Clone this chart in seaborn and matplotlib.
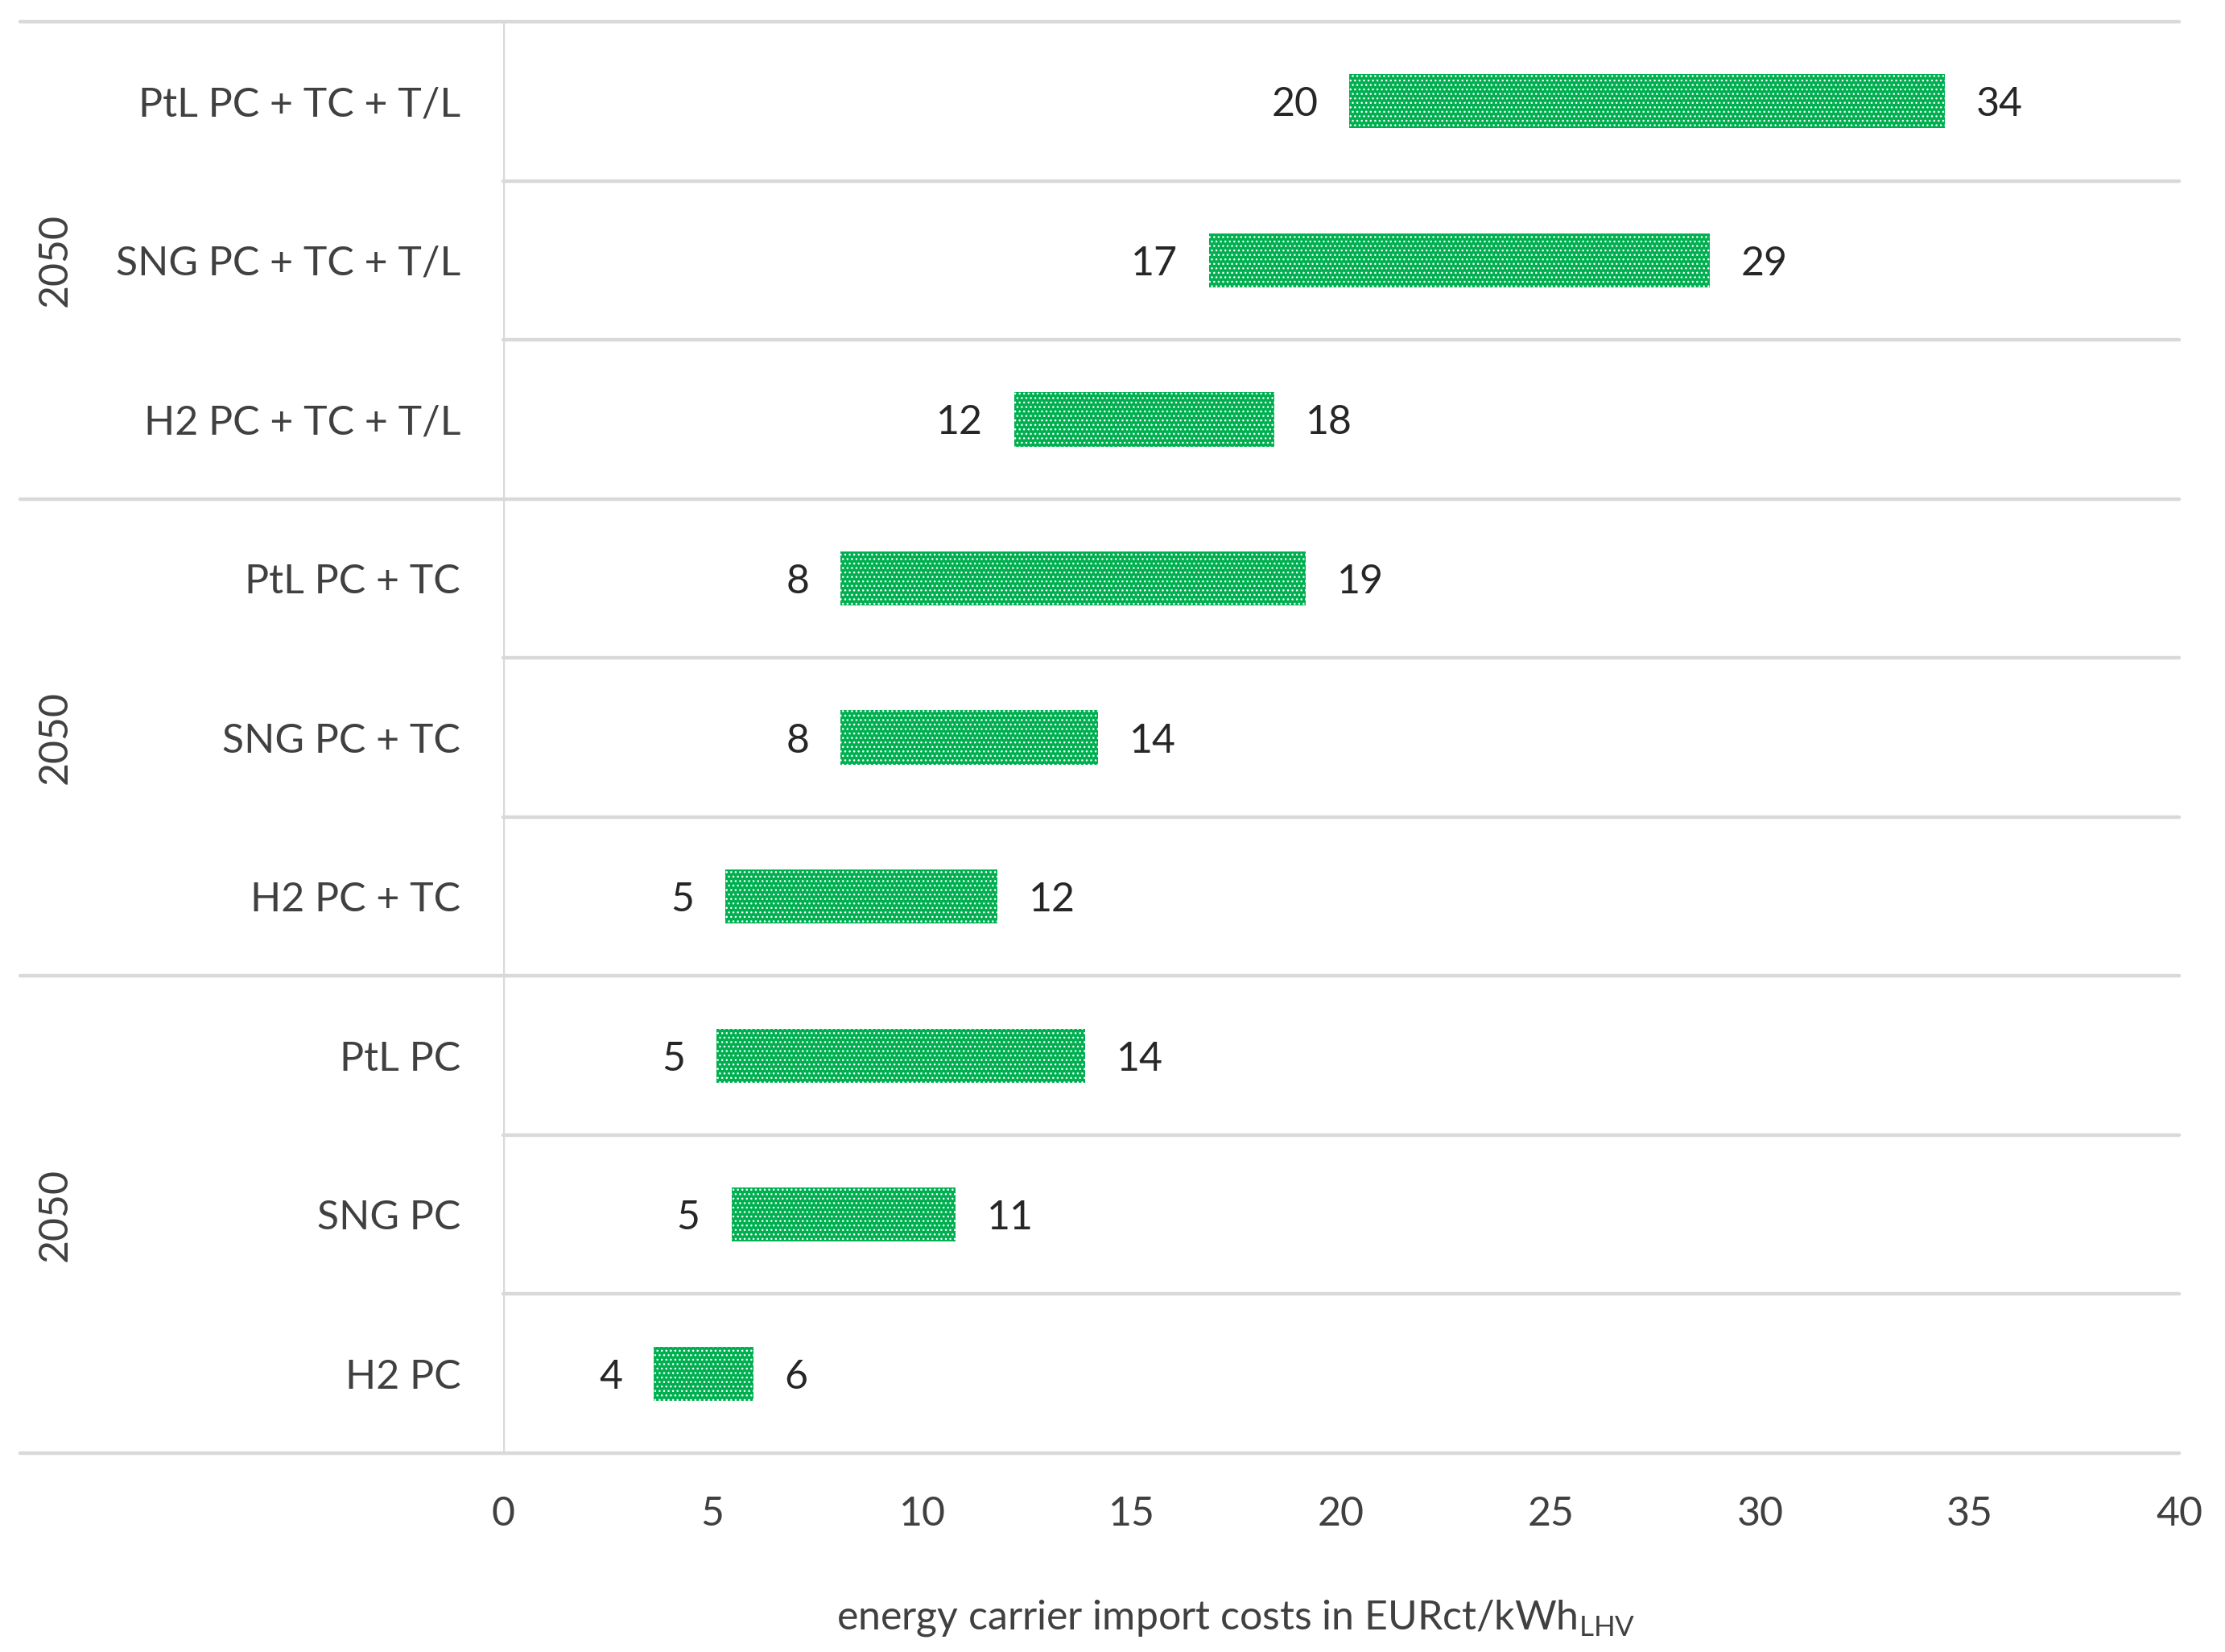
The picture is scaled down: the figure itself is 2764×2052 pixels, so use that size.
import matplotlib
matplotlib.use("Agg")
import matplotlib.pyplot as plt
import matplotlib.transforms as mtransforms
import seaborn as sns
import pandas as pd

# --- DATA ---
CATEGORIES = ['PtL PC + TC + T/L', 'SNG PC + TC + T/L', 'H2 PC + TC + T/L',
              'PtL PC + TC', 'SNG PC + TC', 'H2 PC + TC',
              'PtL PC', 'SNG PC', 'H2 PC']
LOW = [20.2, 16.85, 12.2, 8.05, 8.05, 5.3, 5.1, 5.45, 3.6]
HIGH = [34.4, 28.8, 18.4, 19.15, 14.2, 11.8, 13.9, 10.8, 5.97]
LOW_LABELS = [20, 17, 12, 8, 8, 5, 5, 5, 4]
HIGH_LABELS = [34, 29, 18, 19, 14, 12, 14, 11, 6]
GROUP_LABELS = ['2050', '2050', '2050']
XTICKS = [0, 5, 10, 15, 20, 25, 30, 35, 40]

# --- STYLE ---
GREEN = '#00B050'
GRID = '#D9D9D9'
TEXT = '#404040'
FONT = 'Lato'
FS = 18

sns.set_theme(style='white')
plt.rcParams['font.family'] = [FONT, 'DejaVu Sans']
plt.rcParams['mathtext.fontset'] = 'custom'
plt.rcParams['mathtext.rm'] = FONT
plt.rcParams['hatch.linewidth'] = 0.5
plt.rcParams['hatch.color'] = 'white'

df = pd.DataFrame({'category': CATEGORIES,
                   'span': [h - l for l, h in zip(LOW, HIGH)]})

fig = plt.figure(figsize=(13.82, 10.26), dpi=200)
ax = fig.add_axes([0.2261, 0.1204, 0.7533, 0.8664])

sns.barplot(data=df, x='span', y='category', order=CATEGORIES, orient='y',
            width=0.34, color=GREEN, saturation=1, errorbar=None, ax=ax,
            left=LOW, edgecolor='white', linewidth=0, hatch='......')
for p in ax.patches:
    p.set_edgecolor('white')
    p.set_linewidth(0)

ax.set_xlim(0, 40)
ax.set_ylim(len(CATEGORIES) - 0.5, -0.5)
ax.set_xticks(XTICKS)
ax.tick_params(axis='both', length=0, labelsize=FS, colors=TEXT)
ax.tick_params(axis='y', pad=19)
ax.tick_params(axis='x', pad=19)
for s in ax.spines.values():
    s.set_visible(False)

# value labels on both sides of each bar
for i, (lo, hi) in enumerate(zip(LOW, HIGH)):
    ax.annotate(str(LOW_LABELS[i]), (lo, i), xytext=(-14, 0), textcoords='offset points',
                ha='right', va='center_baseline', fontsize=FS, color='#262626')
    ax.annotate(str(HIGH_LABELS[i]), (hi, i), xytext=(14, 0), textcoords='offset points',
                ha='left', va='center_baseline', fontsize=FS, color='#262626')

# row separators and group lines
trans = mtransforms.blended_transform_factory(ax.transAxes, ax.transData)
for k in range(len(CATEGORIES) + 1):
    y = k - 0.5
    x0 = -0.288 if k % 3 == 0 else 0
    ax.plot([x0, 1], [y, y], transform=trans, color=GRID, lw=1.6,
            clip_on=False, zorder=0)
ax.axvline(0, color=GRID, lw=1.6, zorder=0)

for g, lab in enumerate(GROUP_LABELS):
    ax.text(-0.267, g * 3 + 1, lab, transform=trans, rotation=90, ha='center',
            va='center', fontsize=FS, color=TEXT)

ax.set_ylabel('')
ax.set_xlabel(r'energy carrier import costs in EURct/kWh$_{\mathrm{LHV}}$',
              fontsize=FS, color=TEXT)
ax.xaxis.set_label_coords(0.437, -0.101)

fig.savefig('out.png', dpi=200)
